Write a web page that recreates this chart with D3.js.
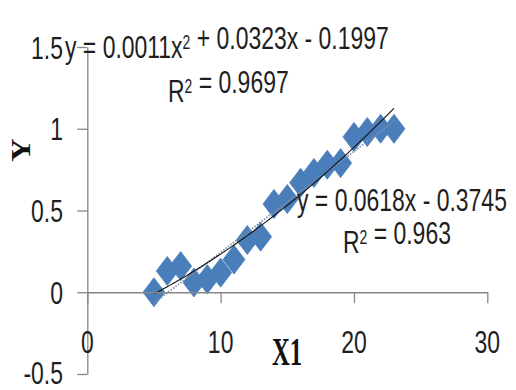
<!DOCTYPE html>
<html>
<head>
<meta charset="utf-8">
<script src="https://cdn.jsdelivr.net/npm/d3@7"></script>
<style>
  html, body { margin: 0; padding: 0; background: #ffffff; }
  svg { display: block; }
</style>
</head>
<body>
<svg id="chart" width="516" height="390"></svg>
<script>
// ---- data ----
const xValues = [5, 6, 7, 8, 9, 10, 11, 12, 13, 14, 15, 16, 17, 18, 19, 20, 21, 22, 23];
const yValues = [0, 0.13, 0.16, 0.06, 0.08, 0.12, 0.2, 0.32, 0.34, 0.54, 0.57, 0.67, 0.73, 0.78, 0.79, 0.95, 0.98, 1.0, 1.0];
const xTicks = [0, 10, 20, 30];
const xTickLabels = ["0", "10", "20", "30"];
const yTicks = [-0.5, 0, 0.5, 1, 1.5];
const yTickLabels = ["-0.5", "0", "0.5", "1", "1.5"];
const linearCoef = [0.0618, -0.3745];          // slope, intercept
const polyCoef = [0.0011, 0.0323, -0.1997];    // a, b, c
const linearR2 = "0.963";
const polyR2 = "0.9697";
const xTitle = "X1";
const yTitle = "Y";

// ---- layout ----
const svg = d3.select("#chart");
const x = d3.scaleLinear().domain([0, 30]).range([87.3, 487.3]);
const y = d3.scaleLinear().domain([-0.5, 1.5]).range([374, 47]);
const axisColor = "#868686";
const blue = "#4A7EBB";
const sansFont = "'Liberation Sans', Arial, sans-serif";
const serifFont = "'Liberation Serif', 'Times New Roman', serif";
const textScale = "scale(0.82,1.15)";

// ---- markers ----
const points = xValues.map((v, i) => ({ x: v, y: yValues[i] }));
const mw = 11, mh = 14.5;
svg.append("g").selectAll("path").data(points).join("path")
  .attr("d", d => {
    const cx = x(d.x), cy = y(d.y);
    return `M${cx},${cy - mh}L${cx + mw},${cy}L${cx},${cy + mh}L${cx - mw},${cy}Z`;
  })
  .attr("fill", blue)
  .attr("stroke", blue)
  .attr("stroke-width", 0.8);

// ---- trendlines ----
const xMin = d3.min(xValues), xMax = d3.max(xValues);
const linePts = d3.range(xMin, xMax + 0.001, 0.25);
const lin = d3.line().x(d => x(d)).y(d => y(linearCoef[0] * d + linearCoef[1]));
const poly = d3.line().x(d => x(d)).y(d => y(polyCoef[0] * d * d + polyCoef[1] * d + polyCoef[2]));
svg.append("path").attr("d", lin(linePts))
  .attr("fill", "none").attr("stroke", "#7f8fa8").attr("stroke-width", 1.8)
  .attr("stroke-dasharray", "1.5,1.5");
svg.append("path").attr("d", poly(linePts))
  .attr("fill", "none").attr("stroke", "#111").attr("stroke-width", 1.1);

// ---- axes ----
const yAxisG = svg.append("g").attr("transform", `translate(${x(0)},0)`)
  .call(d3.axisLeft(y).tickValues(yTicks).tickSize(10).tickSizeOuter(0).tickFormat(""));
const xAxisG = svg.append("g").attr("transform", `translate(0,${y(0)})`)
  .call(d3.axisBottom(x).tickValues(xTicks).tickSize(11).tickSizeOuter(0).tickFormat(""));
[yAxisG, xAxisG].forEach(g => {
  g.select(".domain").attr("stroke", axisColor).attr("stroke-width", 1.3);
  g.selectAll(".tick line").attr("stroke", axisColor).attr("stroke-width", 1.3);
});

// tick labels
const labG = svg.append("g").attr("font-family", sansFont).attr("font-size", 28).attr("fill", "#1e1e1e");
yTicks.forEach((t, i) => {
  labG.append("text")
    .attr("transform", `translate(63,${Math.min(y(t) + 11.5, 384)}) ${textScale}`)
    .attr("text-anchor", "end")
    .text(yTickLabels[i]);
});
xTicks.forEach((t, i) => {
  labG.append("text")
    .attr("transform", `translate(${x(t)},353) ${textScale}`)
    .attr("text-anchor", "middle")
    .text(xTickLabels[i]);
});

// ---- axis titles ----
svg.append("text")
  .attr("transform", "translate(30,150) rotate(-90) scale(1.2,1.05)")
  .attr("text-anchor", "middle")
  .attr("font-family", serifFont).attr("font-weight", "bold").attr("font-size", 27)
  .attr("fill", "#111")
  .text(yTitle);
svg.append("text")
  .attr("transform", "translate(287,365) scale(0.95,1.55)")
  .attr("text-anchor", "middle")
  .attr("font-family", serifFont).attr("font-weight", "bold").attr("font-size", 26)
  .attr("fill", "#111")
  .text(xTitle);

// ---- trendline equations ----
const eqG = svg.append("g").attr("font-family", sansFont).attr("font-size", 28).attr("fill", "#1e1e1e");
function supText(g, tx, ty, parts) {
  const t = g.append("text").attr("transform", `translate(${tx},${ty}) ${textScale}`);
  parts.forEach(p => {
    if (p.sup) {
      t.append("tspan").attr("dy", -8).attr("font-size", 17).text(p.t);
      t.append("tspan").attr("dy", 8).text("");
    } else {
      t.append("tspan").text(p.t);
    }
  });
  return t;
}
const fmt = v => (v < 0 ? " - " : " + ") + Math.abs(v);
supText(eqG, 65, 58, [
  { t: `y = ${polyCoef[0]}x` }, { t: "2", sup: true },
  { t: `${fmt(polyCoef[1])}x${fmt(polyCoef[2])}` }
]);
supText(eqG, 168, 102, [{ t: "R" }, { t: "2", sup: true }, { t: ` = ${polyR2}` }]);
supText(eqG, 297, 211, [{ t: `y = ${linearCoef[0]}x${fmt(linearCoef[1])}` }]);
supText(eqG, 343, 253, [{ t: "R" }, { t: "2", sup: true }, { t: ` = ${linearR2}` }]);
</script>
</body>
</html>
